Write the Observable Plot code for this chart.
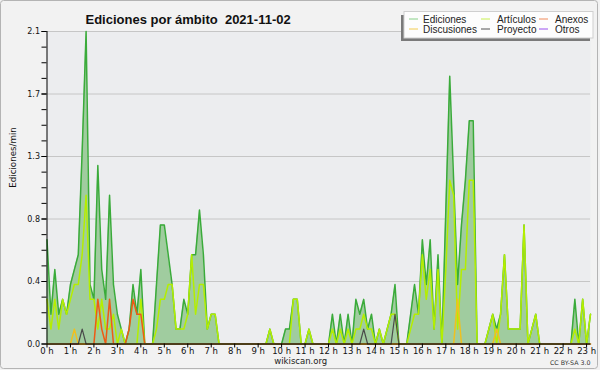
<!DOCTYPE html>
<html><head><meta charset="utf-8">
<script src="https://cdn.jsdelivr.net/npm/d3@7"></script>
<script src="https://cdn.jsdelivr.net/npm/@observablehq/plot@0.6"></script>
<style>
html,body{margin:0;padding:0;background:#f2f2f2;}
#chart{width:600px;height:370px;}
svg{display:block;}
</style></head><body><div id="chart"></div>
<script>
// 10-minute slots, 0:00 .. 23:10 (edits per minute)
const ediciones = [
0.7,0.2,0.5,0.2,0.3,0.2,0.4,0.5,0.6,1.3,
2.1,0.4,0.3,1.2,0.5,0.3,1.0,0.4,0.2,0.1,
0.0,0.1,0.4,0.2,0.5,0.0,0.0,0.0,0.4,0.8,
0.8,0.6,0.4,0.1,0.1,0.3,0.2,0.6,0.6,0.9,
0.6,0.1,0.2,0.2,0,0,0,0,0,0,
0,0,0,0,0,0,0,0.1,0,0,
0,0.1,0.1,0.3,0.3,0,0,0.1,0,0,
0,0,0,0.2,0,0.2,0,0.2,0,0.3,
0.2,0.3,0.1,0.2,0,0.1,0,0.1,0.2,0.4,
0,0,0,0.2,0.4,0.2,0.7,0.4,0.7,0.1,
0.6,0,0.9,1.8,1.1,0.4,0.8,1.1,1.5,1.5,
0,0,0,0.1,0.2,0.1,0.2,0.6,0.1,0.1,
0.1,0.1,0.8,0,0.1,0.2,0,0,0,0,
0,0,0,0,0,0.3,0,0.3,0,0.2];
const articulos = [
0.3,0.1,0.3,0.1,0.3,0.2,0.3,0.4,0.4,0.6,
1.0,0.3,0.3,0.1,0.3,0.1,0.1,0.2,0.0,0.1,
0,0,0,0,0.3,0,0,0,0.1,0.3,
0.3,0.4,0.4,0.1,0.1,0.1,0.2,0.6,0.2,0.4,
0.4,0.1,0.2,0.2,0,0,0,0,0,0,
0,0,0,0,0,0,0,0.1,0,0,
0,0,0,0.3,0.3,0,0,0.1,0,0,
0,0,0,0.1,0,0.1,0,0.1,0,0.1,
0.1,0.2,0.1,0.1,0,0.1,0,0.1,0.2,0.2,
0,0,0,0.1,0.2,0.2,0.6,0.3,0.5,0.1,
0.5,0,0.5,1.1,1.0,0.1,0.5,0.5,1.1,1.1,
0,0,0,0.1,0.2,0,0.2,0.6,0.1,0.1,
0.1,0.1,0.8,0,0.1,0.2,0,0,0,0,
0,0,0,0,0,0.1,0,0.3,0,0.2];
const anexos = [
0,0,0,0,0,0,0,0,0,0,
0,0,0,0.3,0.1,0,0.3,0,0,0,
0,0.1,0.3,0.2,0.2,0,0,0,0,0];
const discusiones = {7:0.1, 105:0.3, 115:0.1};
const proyecto = {9:0.1, 81:0.1, 89:0.2};
const otros = {};

const seriesNames = ["Ediciones","Artículos","Anexos","Discusiones","Proyecto","Otros"];
const seriesColors = ["#3aab3a","#b4ee00","#ee5a14","#efc020","#4a4a4a","#9040e0"];
const legendColors = ["#88d088","#c8f050","#f08a5a","#f2cc50","#555555","#9a50ee"];
const hourTicks = d3.range(0,24);
const hourLabels = hourTicks.map(h => h + " h");
const yTicks = [0,0.42,0.84,1.26,1.68,2.1];
const yLabels = ["0.0","0.4","0.8","1.3","1.7","2.1"];
const title = "Ediciones por ámbito  2021-11-02";
const yTitle = "Ediciones/min";

const data = ediciones.map((v,i) => ({
  t: i/6, ed: v, ar: articulos[i] ?? 0, an: anexos[i] ?? 0,
  di: discusiones[i] ?? 0, pr: proyecto[i] ?? 0, ot: otros[i] ?? 0
}));
const tMax = (ediciones.length-1)/6;
const minorX = d3.range(0, ediciones.length).map(i => i/6);
const minorY = d3.range(0, 21).map(k => k*0.105);
const F = "'DejaVu Sans', sans-serif";
const FL = "'Liberation Sans', Arial, sans-serif";

const svgEl = Plot.plot({
  width: 600, height: 370,
  marginLeft: 46.5, marginRight: 10, marginTop: 31, marginBottom: 26.5,
  x: {domain: [0, tMax], axis: null, label: null},
  y: {domain: [0, 2.1], axis: null, label: null},
  style: {background: "#f2f2f2", fontFamily: F, color: "#111"},
  marks: [
    Plot.frame({fill: "#ecedef", stroke: null}),
    Plot.ruleY(yTicks.slice(1), {stroke: "#c6c6c6", strokeWidth: 1}),
    Plot.areaY(data, {x: "t", y: "ed", fill: "#a0cc9f", curve: "linear"}),
    Plot.lineY(data, {x: "t", y: "ed", stroke: seriesColors[0], strokeWidth: 1.5}),
    Plot.lineY(data, {x: "t", y: "ar", stroke: seriesColors[1], strokeWidth: 1.5}),
    Plot.lineY(data, {x: "t", y: "an", stroke: seriesColors[2], strokeWidth: 1.5}),
    Plot.lineY(data, {x: "t", y: "di", stroke: seriesColors[3], strokeWidth: 1.5}),
    Plot.lineY(data, {x: "t", y: "pr", stroke: seriesColors[4], strokeWidth: 1.2}),
    Plot.ruleY([0], {stroke: "#000"}),
    Plot.ruleX([0], {stroke: "#000"}),
    Plot.tickX(minorX, {x: d => d, insetTop: 312.5, dy: 4, stroke: "#000"}),
    Plot.axisX({ticks: hourTicks, tickSize: 4, tickPadding: 0, stroke: "#000", label: null,
      tickFormat: d => hourLabels[hourTicks.indexOf(d)], fontSize: 8.5, fill: "#111"}),
    Plot.axisY({ticks: minorY, tickSize: 5, tickFormat: () => "", stroke: "#000", label: null}),
    Plot.axisY({ticks: yTicks, tickSize: 5, tickPadding: 2, stroke: "#000", label: null,
      tickFormat: d => yLabels[yTicks.indexOf(d)], fontSize: 8, fill: "#111"}),
    Plot.text([yTitle], {frameAnchor: "left", dx: -34, rotate: -90, fontSize: 8.7, fill: "#111"}),
    Plot.text([title], {frameAnchor: "top-left", textAnchor: "start", dx: 38.5, dy: -17, fontSize: 13,
      fontWeight: "bold", fontFamily: FL, fill: "#111"}),
    Plot.text(["wikiscan.org"], {frameAnchor: "bottom", dx: -18, dy: 19.5, fontSize: 8.5, fill: "#222"}),
    Plot.text(["CC BY-SA 3.0"], {frameAnchor: "bottom-right", textAnchor: "end", dy: 21, fontSize: 6.3, fill: "#333"})
  ]
});

const svg = d3.select(svgEl);
// outer frame
svg.append("rect").attr("x", 0.5).attr("y", 0.5).attr("width", 597).attr("height", 368)
  .attr("rx", 3).attr("fill", "none").attr("stroke", "#b4b4b4");
// legend
const lg = svg.append("g").attr("font-family", FL).attr("font-size", 10).attr("text-anchor", "start");
lg.append("rect").attr("x", 401).attr("y", 15).attr("width", 189).attr("height", 26).attr("fill", "#7a7a7a");
lg.append("rect").attr("x", 404).attr("y", 11.5).attr("width", 189).attr("height", 26.5)
  .attr("fill", "#fdfdfd").attr("stroke", "#cfcfcf");
const cols = [[409, 423], [481, 497], [539, 555]];
const rows = [19, 29];
seriesNames.forEach((name, k) => {
  const c = cols[k % 3], r = rows[Math.floor(k / 3)];
  lg.append("line").attr("x1", c[0]).attr("x2", c[0] + 9).attr("y1", r).attr("y2", r)
    .attr("stroke", legendColors[k]).attr("stroke-width", 1);
  lg.append("text").attr("x", c[1]).attr("y", r).attr("dy", "0.35em").attr("fill", "#222")
    .attr("text-anchor", "start").text(name);
});
document.getElementById("chart").appendChild(svgEl);
</script>
</body></html>
